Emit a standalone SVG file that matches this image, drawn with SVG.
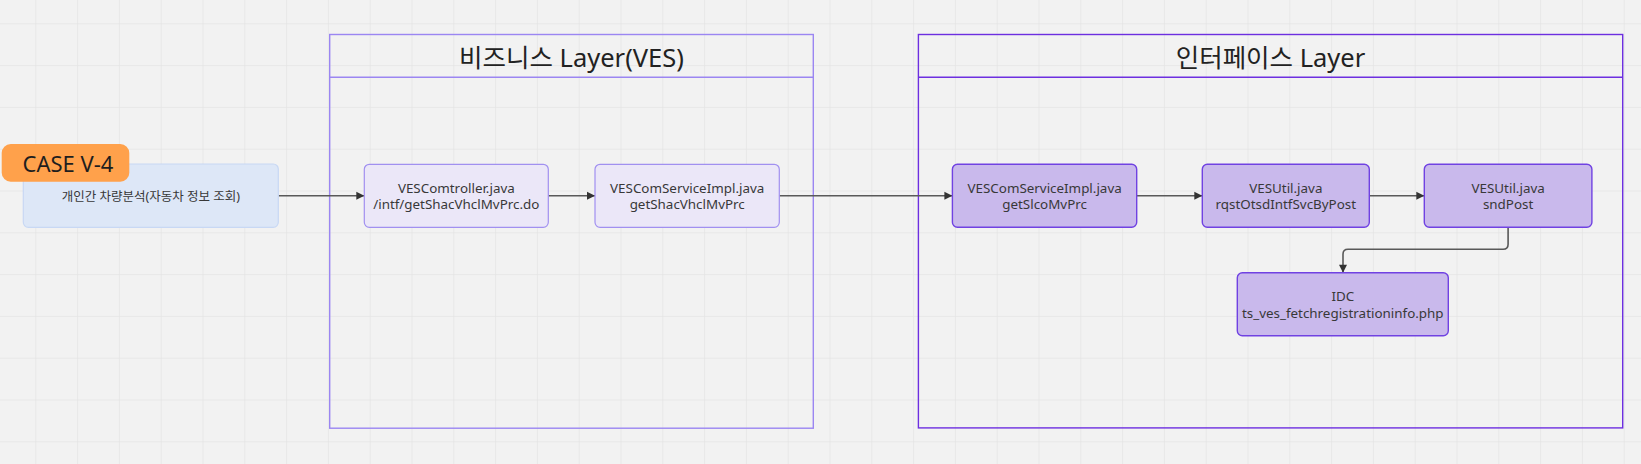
<svg xmlns="http://www.w3.org/2000/svg" width="1641" height="464" viewBox="0 0 1641 464">
<defs>
<pattern id="grid" patternUnits="userSpaceOnUse" x="35.3" y="23.3" width="41.8" height="41.8">
<path d="M0 0 V41.8 M0 0 H41.8" fill="none" stroke="#e5e5e5" stroke-width="1.5"/>
</pattern>
<marker id="arr" markerUnits="userSpaceOnUse" markerWidth="10" markerHeight="10" viewBox="0 0 10 10" refX="9" refY="5" orient="auto">
<path d="M1 1 L9 5 L1 9 Z" fill="#333"/>
</marker>
<style>
.txt{font-family:"Noto Sans","Noto Sans CJK KR",sans-serif;fill:#383838;font-size:13.4px;text-anchor:middle}
.title{font-family:"Noto Sans","Noto Sans CJK KR",sans-serif;fill:#222;font-size:25.5px;text-anchor:middle}
.layerB{fill:none;stroke:#9b86f2;stroke-width:1.4}
.layerI{fill:none;stroke:#6d2fe0;stroke-width:1.4}
.nodeB{fill:#ebe7f8;stroke:#a190f0;stroke-width:1.2}
.nodeI{fill:#c9b9ec;stroke:#7042e2;stroke-width:1.4}
.conn{fill:none;stroke:#595959;stroke-width:1.6;marker-end:url(#arr)}
</style>
</defs>
<rect width="1641" height="464" fill="#f2f2f2"/>
<rect width="1641" height="464" fill="url(#grid)"/>

<g id="layer-business">
<rect class="layerB" x="329.7" y="34.5" width="483.6" height="393.7"/>
<line class="layerB" x1="329.7" y1="77.3" x2="813.3" y2="77.3"/>
<text class="title" x="571.5" y="66.5">비즈니스 Layer(VES)</text>
</g>
<g id="layer-interface">
<rect class="layerI" x="918.4" y="34.5" width="704.3" height="393.4"/>
<line class="layerI" x1="918.4" y1="77.3" x2="1622.7" y2="77.3"/>
<text class="title" x="1270.5" y="66.5">인터페이스 Layer</text>
</g>

<g id="connectors">
<path class="conn" d="M278.3 195.8 H364.3"/>
<path class="conn" d="M548.3 195.8 H595"/>
<path class="conn" d="M779.3 195.8 H952.4"/>
<path class="conn" d="M1136.7 195.8 H1202.3"/>
<path class="conn" d="M1369.3 195.8 H1424.3"/>
<path class="conn" d="M1508.1 227.3 V244.3 Q1508.1 249.3 1503.1 249.3 H1348 Q1343 249.3 1343 254.3 V272.7"/>
</g>

<g id="start">
<rect x="23.3" y="164" width="255" height="63.3" rx="5" fill="#dde7f7" stroke="#c8d8f4" stroke-width="1.2"/>
<text class="txt" x="150.8" y="200.5" style="font-size:12.5px">개인간 차량분석(자동차 정보 조회)</text>
</g>
<g id="case-badge">
<rect x="1.7" y="144" width="127.6" height="37.7" rx="9" fill="#ffa14b"/>
<text x="68" y="171.5" style="font-family:'Noto Sans',sans-serif;font-size:22px;fill:#1e1e1e;text-anchor:middle">CASE V-4</text>
</g>

<g id="b1">
<rect class="nodeB" x="364.3" y="164.3" width="184" height="63" rx="5"/>
<text class="txt" x="456.3" y="192.7">VESComtroller.java</text>
<text class="txt" x="456.3" y="209.3">/intf/getShacVhclMvPrc.do</text>
</g>
<g id="b2">
<rect class="nodeB" x="595" y="164.3" width="184.3" height="63" rx="5"/>
<text class="txt" x="687.2" y="192.7">VESComServiceImpl.java</text>
<text class="txt" x="687.2" y="209.3">getShacVhclMvPrc</text>
</g>
<g id="i1">
<rect class="nodeI" x="952.4" y="164.3" width="184.3" height="63" rx="5"/>
<text class="txt" x="1044.6" y="192.7">VESComServiceImpl.java</text>
<text class="txt" x="1044.6" y="209.3">getSlcoMvPrc</text>
</g>
<g id="i2">
<rect class="nodeI" x="1202.3" y="164.3" width="167" height="63" rx="5"/>
<text class="txt" x="1285.8" y="192.7">VESUtil.java</text>
<text class="txt" x="1285.8" y="209.3">rqstOtsdIntfSvcByPost</text>
</g>
<g id="i3">
<rect class="nodeI" x="1424.3" y="164.3" width="167.6" height="63" rx="5"/>
<text class="txt" x="1508.1" y="192.7">VESUtil.java</text>
<text class="txt" x="1508.1" y="209.3">sndPost</text>
</g>
<g id="idc">
<rect class="nodeI" x="1237.3" y="272.7" width="211" height="63" rx="5"/>
<text class="txt" x="1342.8" y="301.2">IDC</text>
<text class="txt" x="1342.8" y="317.8">ts_ves_fetchregistrationinfo.php</text>
</g>
</svg>
